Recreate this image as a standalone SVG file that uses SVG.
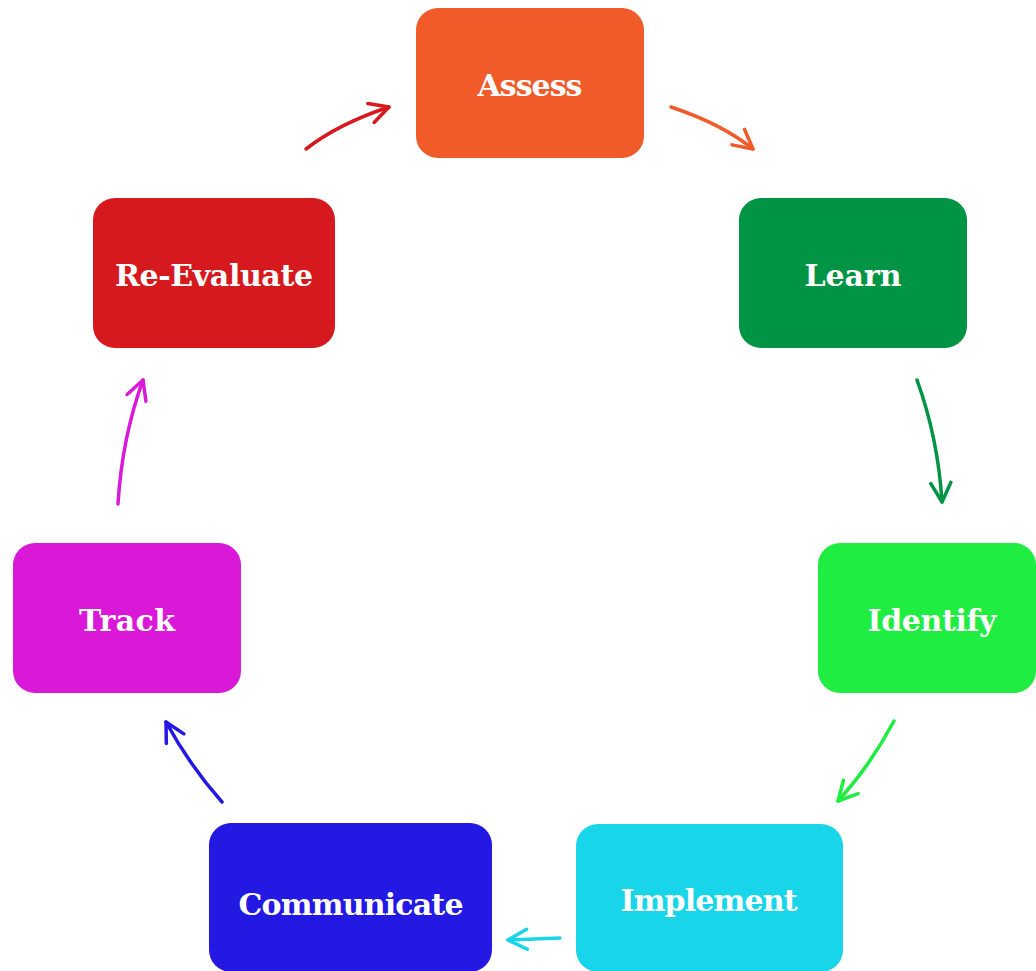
<svg xmlns="http://www.w3.org/2000/svg" width="1036" height="971" viewBox="0 0 1036 971">
  <style>
    .box { stroke: none; }
    .label { font-family: "DejaVu Serif", "Liberation Serif", serif; font-weight: bold; font-size: 30px; fill: #ffffff; text-anchor: middle; }
    .edge { fill: none; stroke-width: 3.5; stroke-linecap: round; stroke-linejoin: round; }
    .head { fill: none; stroke-width: 3.5; stroke-linecap: round; stroke-linejoin: round; }
  </style>
  <defs>
    <marker id="ah-red" markerUnits="userSpaceOnUse" viewBox="-22 -12 26 24" markerWidth="26" markerHeight="24" refX="0" refY="0" orient="auto">
      <path class="head" d="M -19,-10 L 0,0 L -19,10" stroke="#D6191F"/>
    </marker>
    <marker id="ah-orange" markerUnits="userSpaceOnUse" viewBox="-22 -12 26 24" markerWidth="26" markerHeight="24" refX="0" refY="0" orient="auto">
      <path class="head" d="M -19,-10 L 0,0 L -19,10" stroke="#F15A29"/>
    </marker>
    <marker id="ah-darkgreen" markerUnits="userSpaceOnUse" viewBox="-22 -12 26 24" markerWidth="26" markerHeight="24" refX="0" refY="0" orient="auto">
      <path class="head" d="M -19,-10 L 0,0 L -19,10" stroke="#009444"/>
    </marker>
    <marker id="ah-green" markerUnits="userSpaceOnUse" viewBox="-22 -12 26 24" markerWidth="26" markerHeight="24" refX="0" refY="0" orient="auto">
      <path class="head" d="M -19,-10 L 0,0 L -19,10" stroke="#1FED42"/>
    </marker>
    <marker id="ah-cyan" markerUnits="userSpaceOnUse" viewBox="-22 -12 26 24" markerWidth="26" markerHeight="24" refX="0" refY="0" orient="auto">
      <path class="head" d="M -19,-10 L 0,0 L -19,10" stroke="#19D5EA"/>
    </marker>
    <marker id="ah-blue" markerUnits="userSpaceOnUse" viewBox="-22 -12 26 24" markerWidth="26" markerHeight="24" refX="0" refY="0" orient="auto">
      <path class="head" d="M -19,-10 L 0,0 L -19,10" stroke="#2418E3"/>
    </marker>
    <marker id="ah-magenta" markerUnits="userSpaceOnUse" viewBox="-22 -12 26 24" markerWidth="26" markerHeight="24" refX="0" refY="0" orient="auto">
      <path class="head" d="M -19,-10 L 0,0 L -19,10" stroke="#DA19D8"/>
    </marker>
  </defs>

  <rect width="1036" height="971" fill="#ffffff"/>

  <!-- cycle connectors, each coloured like the step it leaves -->
  <g id="connectors">
    <path id="e-reeval-assess" class="edge" stroke="#D6191F" d="M 306,149 Q 338,124 389,107" marker-end="url(#ah-red)"/>
    <path id="e-assess-learn" class="edge" stroke="#F15A29" d="M 671,107 Q 722,124 753,149" marker-end="url(#ah-orange)"/>
    <path id="e-learn-identify" class="edge" stroke="#009444" d="M 917,380 Q 938,438 942,502" marker-end="url(#ah-darkgreen)"/>
    <path id="e-identify-implement" class="edge" stroke="#1FED42" d="M 894,721 Q 870,766 838,801" marker-end="url(#ah-green)"/>
    <path id="e-implement-communicate" class="edge" stroke="#19D5EA" d="M 560,938 Q 534,939 508,940" marker-end="url(#ah-cyan)"/>
    <path id="e-communicate-track" class="edge" stroke="#2418E3" d="M 222,802 Q 190,766 166,722" marker-end="url(#ah-blue)"/>
    <path id="e-track-reeval" class="edge" stroke="#DA19D8" d="M 118,504 Q 122,438 143,380" marker-end="url(#ah-magenta)"/>
  </g>

  <g id="node-assess">
    <rect class="box" x="416" y="8" width="228" height="150" rx="22" fill="#F15A29"/>
    <text class="label" x="530" y="96" textLength="105">Assess</text>
  </g>

  <g id="node-learn">
    <rect class="box" x="739" y="198" width="228" height="150" rx="22" fill="#009444"/>
    <text class="label" x="853" y="286" textLength="97">Learn</text>
  </g>

  <g id="node-identify">
    <rect class="box" x="818" y="543" width="218" height="150" rx="22" fill="#1FED42"/>
    <text class="label" x="932" y="631" textLength="129">Identify</text>
  </g>

  <g id="node-implement">
    <rect class="box" x="576" y="824" width="267" height="148" rx="22" fill="#19D5EA"/>
    <text class="label" x="709" y="911" textLength="177">Implement</text>
  </g>

  <g id="node-communicate">
    <rect class="box" x="209" y="823" width="283" height="149" rx="22" fill="#2418E3"/>
    <text class="label" x="351" y="915" textLength="225">Communicate</text>
  </g>

  <g id="node-track">
    <rect class="box" x="13" y="543" width="228" height="150" rx="22" fill="#DA19D8"/>
    <text class="label" x="127" y="631" textLength="96">Track</text>
  </g>

  <g id="node-reevaluate">
    <rect class="box" x="93" y="198" width="242" height="150" rx="22" fill="#D6191F"/>
    <text class="label" x="214" y="286" textLength="198">Re-Evaluate</text>
  </g>
</svg>
